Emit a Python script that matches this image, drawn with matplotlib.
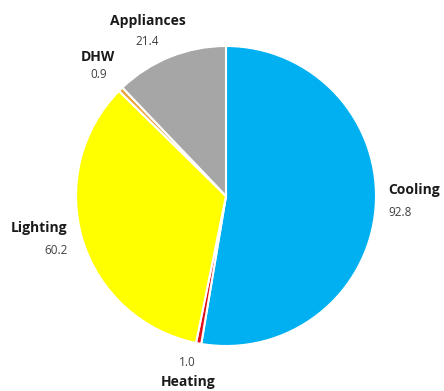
import matplotlib
matplotlib.use("Agg")
import matplotlib.pyplot as plt

# Annual end-use energy breakdown
categories = ["Cooling", "Heating", "Lighting", "DHW", "Appliances"]
values = [92.8, 1.0, 60.2, 0.9, 21.4]
value_labels = ["92.8", "1.0", "60.2", "0.9", "21.4"]
colors = ["#00B0F0", "#E0101A", "#FFFF00", "#E8A33C", "#A6A6A6"]

# Label placement (name position, value position, alignment) in axes data units
label_layout = {
    "Cooling":    ((1.08, 0.04), (1.08, -0.107), "left"),
    "Heating":    ((-0.253, -1.24), (-0.26, -1.113), "center"),
    "Lighting":   ((-1.06, -0.213), (-1.055, -0.36), "right"),
    "DHW":        ((-0.853, 0.927), (-0.847, 0.813), "center"),
    "Appliances": ((-0.52, 1.167), (-0.527, 1.027), "center"),
}

plt.rcParams["font.family"] = ["Open Sans", "DejaVu Sans"]

fig = plt.figure(figsize=(4.44, 3.91), dpi=100)
W, H = 444, 391
cx, cy, r = 226, 196, 150
ax = fig.add_axes([(cx - r) / W, (H - cy - r) / H, 2 * r / W, 2 * r / H])

ax.pie(values, colors=colors, startangle=90, counterclock=False, radius=1.0,
       wedgeprops=dict(edgecolor="white", linewidth=1.5))
ax.set_xlim(-1, 1)
ax.set_ylim(-1, 1)
ax.set_aspect("equal")
ax.axis("off")

for name, val in zip(categories, value_labels):
    (nx, ny), (vx, vy), ha = label_layout[name]
    ax.text(nx, ny, name, ha=ha, va="center", fontsize=10, fontweight="bold",
            color="#1a1a1a", clip_on=False)
    ax.text(vx, vy, val, ha=ha, va="center", fontsize=8.5, color="#404040",
            clip_on=False)

fig.savefig("out.png", dpi=100, facecolor="white")
